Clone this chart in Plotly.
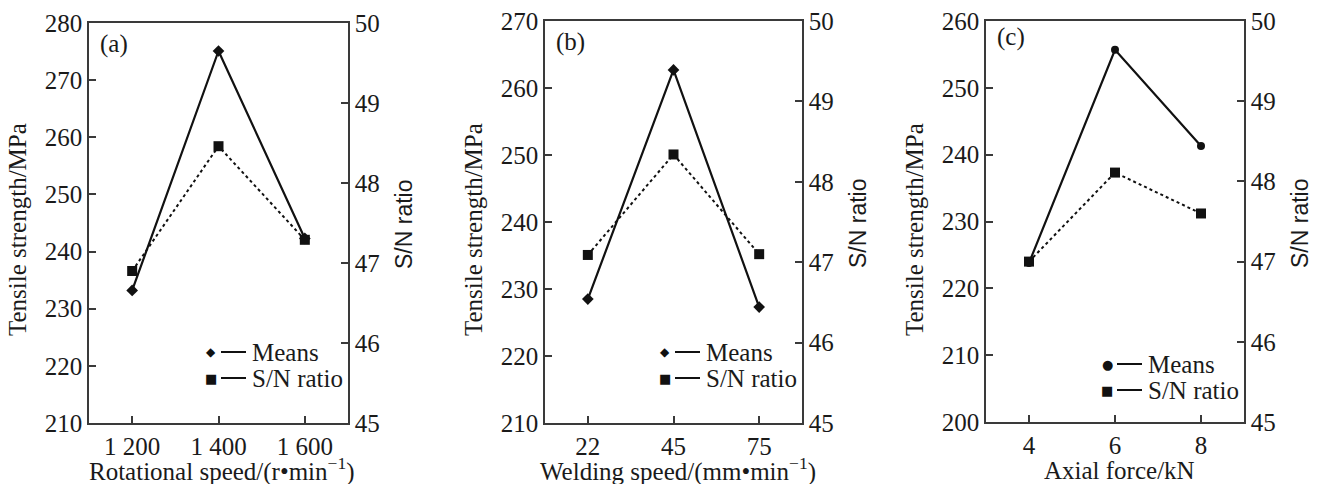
import plotly.graph_objects as go

# ---- data ----
rot_speed = ["1 200", "1 400", "1 600"]
rot_means = [233.2, 275.1, 242.3]
rot_sn = [46.90, 48.46, 47.29]

weld_speed = ["22", "45", "75"]
weld_means = [228.5, 262.7, 227.3]
weld_sn = [47.09, 48.34, 47.10]

axial_force = ["4", "6", "8"]
axial_means = [223.8, 255.7, 241.3]
axial_sn = [47.00, 48.11, 47.60]

panel_labels = ["(a)", "(b)", "(c)"]
x_titles = ["Rotational speed/(r•min<sup>−1</sup>)",
            "Welding speed/(mm•min<sup>−1</sup>)",
            "Axial force/kN"]
left_ranges = [[210, 280], [210, 270], [200, 260]]
right_range = [45, 50]

W, H = 1326, 484
SERIF = "Liberation Serif"
SANS = "Liberation Sans"
INK = "#1a1a1a"
AX = "#3a3a3a"
FS = 25

panels = [(89, 348, 23, 423), (545, 802, 21, 423), (986, 1244, 21, 422)]
label_dy = [21, 21, 16]
xtitle_y = [469, 469, 470]
means_symbols = ["diamond", "diamond", "circle"]
means_sizes = [9, 9, 8]
datasets = [(rot_speed, rot_means, rot_sn),
            (weld_speed, weld_means, weld_sn),
            (axial_force, axial_means, axial_sn)]

def px_x(p):
    return p / W

def px_y(p):
    return 1 - p / H

fig = go.Figure()
layout = dict(
    width=W, height=H, template="none",
    margin=dict(l=0, r=0, t=0, b=0),
    paper_bgcolor="white", plot_bgcolor="white",
    showlegend=False,
    font=dict(family=SERIF, size=FS, color=INK),
)
annotations = []
shapes = []

for i, ((x0, x1, y0, y1), (cats, means, sn)) in enumerate(zip(panels, datasets)):
    xa = f"x{'' if i == 0 else i + 1}"
    yl_idx = 2 * i + 1
    yr_idx = 2 * i + 2
    yl = f"y{'' if yl_idx == 1 else yl_idx}"
    yr = f"y{yr_idx}"
    xdom = [px_x(x0), px_x(x1)]
    ydom = [px_y(y1), px_y(y0)]

    fig.add_trace(go.Scatter(
        x=cats, y=means, xaxis=xa, yaxis=yl, mode="lines+markers",
        name="Means",
        line=dict(color="#111", width=2.2),
        marker=dict(symbol=means_symbols[i], size=means_sizes[i], color="#111"),
    ))
    fig.add_trace(go.Scatter(
        x=cats, y=sn, xaxis=xa, yaxis=yr, mode="lines+markers",
        name="S/N ratio",
        line=dict(color="#111", width=2, dash="dot"),
        marker=dict(symbol="square", size=10, color="#111"),
    ))

    xkey = "xaxis" if i == 0 else f"xaxis{i + 1}"
    ylkey = "yaxis" if yl_idx == 1 else f"yaxis{yl_idx}"
    yrkey = f"yaxis{yr_idx}"
    common = dict(
        showline=True, linecolor=AX, linewidth=1.5,
        ticks="inside", ticklen=7, tickwidth=1.5, tickcolor=AX,
        showgrid=False, zeroline=False, automargin=False,
        tickfont=dict(family=SERIF, size=FS, color=INK),
    )
    layout[xkey] = dict(
        domain=xdom, anchor=yl, type="category", range=[-0.5, 2.5],
        mirror=True, **common)
    layout[ylkey] = dict(
        domain=ydom, anchor=xa, range=left_ranges[i], dtick=10, **common)
    layout[yrkey] = dict(
        domain=ydom, anchor=xa, overlaying=yl, side="right",
        range=right_range, dtick=1, **common)

    # panel label
    annotations.append(dict(
        text=panel_labels[i], xref="paper", yref="paper",
        x=px_x(x0 + 9), y=px_y(y0 + label_dy[i]), xanchor="left", yanchor="middle",
        showarrow=False, font=dict(family=SERIF, size=FS, color=INK)))
    # x title
    annotations.append(dict(
        text=x_titles[i], xref="paper", yref="paper",
        x=px_x((x0 + x1) / 2 + 4), y=px_y(xtitle_y[i]), xanchor="center", yanchor="middle",
        showarrow=False, font=dict(family=SERIF, size=FS, color=INK)))
    # left y title
    annotations.append(dict(
        text="Tensile strength/MPa", xref="paper", yref="paper", textangle=-90,
        x=px_x(x0 - 72), y=px_y(230), xanchor="center", yanchor="middle",
        showarrow=False, font=dict(family=SERIF, size=FS, color=INK)))
    # right y title
    annotations.append(dict(
        text="S/N ratio", xref="paper", yref="paper", textangle=-90,
        x=px_x(x1 + 56), y=px_y(224), xanchor="center", yanchor="middle",
        showarrow=False, font=dict(family=SANS, size=23, color=INK)))

    # custom legend (marker, short solid line, label)
    leg_rows = [("Means", means_symbols[i]), ("S/N ratio", "square")]
    lx_text = x1 - 98
    ly0 = 352 if i < 2 else 364
    for r, (lab, sym) in enumerate(leg_rows):
        yy = ly0 + 26 * r
        glyph = {"diamond": "◆", "circle": "●", "square": "■"}[sym]
        gsize = {"diamond": 12, "circle": 13, "square": 13}[sym]
        annotations.append(dict(
            text=glyph, xref="paper", yref="paper",
            x=px_x(lx_text - 39), y=px_y(yy), xanchor="center", yanchor="middle",
            showarrow=False, font=dict(family="DejaVu Sans", size=gsize, color="#111")))
        shapes.append(dict(
            type="line", xref="paper", yref="paper",
            x0=px_x(lx_text - 29), x1=px_x(lx_text - 4), y0=px_y(yy), y1=px_y(yy),
            line=dict(color="#111", width=2)))
        annotations.append(dict(
            text=lab, xref="paper", yref="paper",
            x=px_x(lx_text), y=px_y(yy), xanchor="left", yanchor="middle",
            showarrow=False, font=dict(family=SERIF, size=FS, color=INK)))

layout["annotations"] = annotations
layout["shapes"] = shapes
fig.update_layout(**layout)
fig.write_html("out.html",
               config={"displayModeBar": False},
               post_script="document.body.style.margin='0';document.body.style.padding='0';")
